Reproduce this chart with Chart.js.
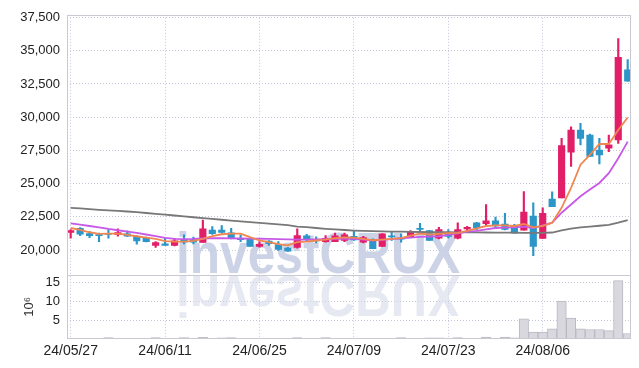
<!DOCTYPE html>
<html><head><meta charset="utf-8">
<script src="https://cdn.jsdelivr.net/npm/chart.js@4.4.0/dist/chart.umd.min.js"></script>
<style>html,body{margin:0;padding:0;background:#fff;}#wrap{width:639px;height:368px;position:relative;}</style>
</head><body><div id="wrap"><canvas id="c" width="639" height="368"></canvas></div>
<script>
// ---- data (KRW, volume in millions of shares) ----
const dates = ['24/05/27','24/05/28','24/05/29','24/05/30','24/05/31','24/06/03','24/06/04','24/06/05','24/06/07','24/06/10',
'24/06/11','24/06/12','24/06/13','24/06/14','24/06/17','24/06/18','24/06/19','24/06/20','24/06/21','24/06/24',
'24/06/25','24/06/26','24/06/27','24/06/28','24/07/01','24/07/02','24/07/03','24/07/04','24/07/05','24/07/08',
'24/07/09','24/07/10','24/07/11','24/07/12','24/07/15','24/07/16','24/07/17','24/07/18','24/07/19','24/07/22',
'24/07/23','24/07/24','24/07/25','24/07/26','24/07/29','24/07/30','24/07/31','24/08/01','24/08/02','24/08/05',
'24/08/06','24/08/07','24/08/08','24/08/09','24/08/12','24/08/13','24/08/14','24/08/16','24/08/19','24/08/20'];
const opens  = [21320,21640,21240,21170,21240,21170,21220,21040,20920,20350,20470,20350,20790,20790,20570,21510,21510,21290,20890,20890,
20270,20670,20420,20150,20200,21070,20770,20640,20640,20720,21040,20590,20770,20270,21070,20890,20940,21640,21460,20890,
21340,20890,21590,22040,21990,22190,21960,21860,21490,22560,20870,23830,23930,27360,29030,28650,27530,27660,28280,33560];
const highs  = [21540,21690,21390,21270,21540,21590,21440,21090,20970,20640,20890,20890,21140,20970,22260,21760,21840,21640,21140,20890,
20640,20720,20640,20200,21590,21190,20990,21090,21270,21270,21460,21040,20840,21240,21340,21220,21460,22010,21460,21710,
21540,22040,21790,22090,23430,22480,22760,21940,24400,23550,23180,24380,28400,29280,29530,28730,28400,28650,35920,34330];
const lows   = [20890,21090,20940,20640,20890,21040,21020,20440,20620,20200,20350,20320,20470,20470,20570,21170,21270,20840,20640,20270,
20220,20350,19970,19900,20150,20640,20540,20590,20640,20640,20720,20540,20100,20270,20720,20590,20940,21340,20720,20840,
20890,20840,21340,21540,21860,21660,21510,21270,21490,19570,20870,23260,23930,26290,27910,27040,26490,27410,28030,32710];
const closes = [21460,21190,21090,21090,21170,21320,21040,20690,20640,20570,20350,20690,20590,20590,21590,21240,21320,20890,20790,20270,
20440,20490,20050,19920,21090,20840,20690,20890,21070,21140,20770,20940,20100,21220,20990,20820,21340,21560,20720,21540,
21020,21540,21710,21660,22190,21810,21560,21270,22860,20270,22760,23260,27860,29030,28400,27040,27160,27910,34500,32710];
const ma5    = [21660,21510,21340,21220,21240,21240,21140,21040,20940,20840,20670,20640,20640,20690,20840,21040,21190,21240,21240,20970,
20720,20590,20440,20350,20590,20640,20720,20790,20890,20960,20940,20840,20740,20790,20840,20890,21090,21240,21170,21220,
21270,21290,21440,21640,21810,21860,21860,21810,21960,21710,21810,22060,23180,24670,26420,27160,27980,27980,29030,29970];
const ma20   = [22010,21910,21810,21710,21590,21490,21390,21290,21170,21040,20920,20840,20820,20840,20880,20890,20890,20880,20870,20860,
20850,20840,20820,20800,20790,20790,20800,20820,20840,20850,20840,20780,20720,20760,20830,20890,20940,20990,21020,21040,
21140,21260,21380,21440,21560,21660,21690,21710,21760,21660,21860,22060,22810,23430,24050,24550,25050,25790,26910,28160];
const ma60   = [23180,23130,23080,23030,22990,22950,22900,22850,22790,22730,22660,22600,22540,22470,22400,22340,22280,22220,22160,22100,
22050,21990,21930,21870,21770,21720,21660,21600,21550,21510,21470,21440,21420,21400,21390,21380,21370,21360,21350,21345,
21340,21335,21330,21325,21320,21315,21310,21305,21300,21300,21300,21320,21480,21620,21700,21760,21830,21900,22060,22260];
const volumes = [0.10,0.08,0.07,0.10,0.40,0.10,0.08,0.12,0.10,0.35,0.10,0.15,0.35,0.10,0.45,0.15,0.30,0.35,0.10,0.12,
0.10,0.10,0.12,0.10,0.40,0.10,0.10,0.35,0.12,0.15,0.10,0.10,0.15,0.20,0.10,0.35,0.15,0.20,0.30,0.30,
0.12,0.40,0.20,0.20,0.50,0.20,0.50,0.30,5.3,1.8,1.8,2.7,10.0,5.5,2.7,2.5,2.5,2.2,15.4,1.45];
const priceTicks = [20000,22500,25000,27500,30000,32500,35000,37500];
const volumeTicks = [5,10,15];
const xTickIdx = [0,10,20,30,40,50];

// ---- styles ----
const UP = 'rgb(226,30,104)', DOWN = 'rgb(44,150,200)';
const GRID = '#c3c8dc', FRAME = '#c8c9d3', TXT = '#222';
const FONT = "'Liberation Sans', Arial, sans-serif";
Chart.defaults.font.family = FONT;

const candleColor = opens.map((o,i) => closes[i] >= o ? UP : DOWN);
const pts = arr => arr.map((v,i) => ({x:i, y:v}));

const deco = {
  id:'deco',
  beforeDatasetsDraw(chart){
    const {ctx, chartArea:a} = chart;
    ctx.save();
    ctx.beginPath(); ctx.rect(a.left, a.top, a.right-a.left, a.bottom-a.top); ctx.clip();
    ctx.font = "bold 57px " + FONT;
    const t = 'investCRUX';
    const w = ctx.measureText(t).width;
    ctx.translate(176, 273);
    ctx.scale(284 / w, 1);
    ctx.textBaseline = 'alphabetic';
    ctx.fillStyle = 'rgba(196,203,226,0.85)';
    ctx.fillText(t, 0, 0);
    ctx.scale(1, -1);
    ctx.fillStyle = 'rgba(214,219,234,0.6)';
    ctx.fillText(t, 0, -3);
    ctx.restore();
  },
  afterDraw(chart){
    const {ctx} = chart;
    const y = chart.scales.y, v = chart.scales.yv;
    ctx.save();
    ctx.strokeStyle = FRAME; ctx.lineWidth = 1;
    const L = Math.round(y.right)+0.5, R = Math.round(chart.chartArea.right)-0.5;
    ctx.strokeRect(L, Math.round(y.top)+0.5, R-L, Math.round(y.bottom)-Math.round(y.top));
    ctx.strokeRect(L, Math.round(v.top)+0.5, R-L, Math.round(v.bottom)-Math.round(v.top)-1);
    ctx.restore();
  }
};

new Chart(document.getElementById('c'), {
  type:'bar',
  data:{ datasets:[
    {type:'line', label:'MA5', data:pts(ma5), yAxisID:'y', borderColor:'rgb(240,135,80)', borderWidth:1.8, pointRadius:0, tension:0, order:0},
    {type:'line', label:'MA20', data:pts(ma20), yAxisID:'y', borderColor:'rgb(200,88,232)', borderWidth:1.8, pointRadius:0, tension:0, order:0},
    {type:'line', label:'MA60', data:pts(ma60), yAxisID:'y', borderColor:'rgb(120,120,120)', borderWidth:1.8, pointRadius:0, tension:0, order:0},
    {label:'body', data:opens.map((o,i)=>({x:i, y:[o, closes[i]]})), yAxisID:'y', backgroundColor:candleColor,
      grouped:false, maxBarThickness:6.5, categoryPercentage:1, barPercentage:1, minBarLength:1, order:1},
    {label:'wick', data:lows.map((l,i)=>({x:i, y:[l, highs[i]]})), yAxisID:'y', backgroundColor:candleColor,
      grouped:false, maxBarThickness:1.5, categoryPercentage:1, barPercentage:1, order:2},
    {label:'volume', data:pts(volumes), yAxisID:'yv', backgroundColor:'#d8d8de', borderColor:'#b9b9c3', borderWidth:1,
      grouped:false, categoryPercentage:1, barPercentage:1, order:3}
  ]},
  options:{
    responsive:false, animation:false, devicePixelRatio:1,
    layout:{padding:{top:12, right:8, left:0, bottom:0}},
    plugins:{legend:{display:false}, tooltip:{enabled:false}},
    scales:{
      x:{type:'linear', min:-0.39, max:59.35, offset:false,
        afterBuildTicks:s=>{ s.ticks = xTickIdx.map(v=>({value:v})); },
        afterFit:s=>{ s.height = 29; },
        ticks:{callback:v=>dates[v], color:TXT, font:{size:14}, padding:4, maxRotation:0, autoSkip:false},
        grid:{color:GRID, drawTicks:false, lineWidth:1, offset:false},
        border:{display:false, dash:[1,2]}},
      yv:{type:'linear', position:'left', stack:'panels', stackWeight:65, min:0, max:17,
        afterBuildTicks:s=>{ s.ticks = volumeTicks.map(v=>({value:v})); },
        afterFit:s=>{ s.width = 67; },
        ticks:{color:TXT, font:{size:13}, padding:7, autoSkip:false},
        title:{display:true, text:'10⁶', color:'#333', font:{size:13}, padding:{top:22, bottom:0}},
        grid:{color:GRID, drawTicks:false}, border:{display:false, dash:[1,2]}},
      y:{type:'linear', position:'left', stack:'panels', stackWeight:262, min:18157, max:37701,
        afterBuildTicks:s=>{ s.ticks = priceTicks.map(v=>({value:v})); },
        afterFit:s=>{ s.width = 67; },
        ticks:{color:TXT, font:{size:13}, padding:7, autoSkip:false, callback:v=>v.toLocaleString('en-US')},
        grid:{color:GRID, drawTicks:false}, border:{display:false, dash:[1,2]}}
    }
  },
  plugins:[deco]
});
</script></body></html>
